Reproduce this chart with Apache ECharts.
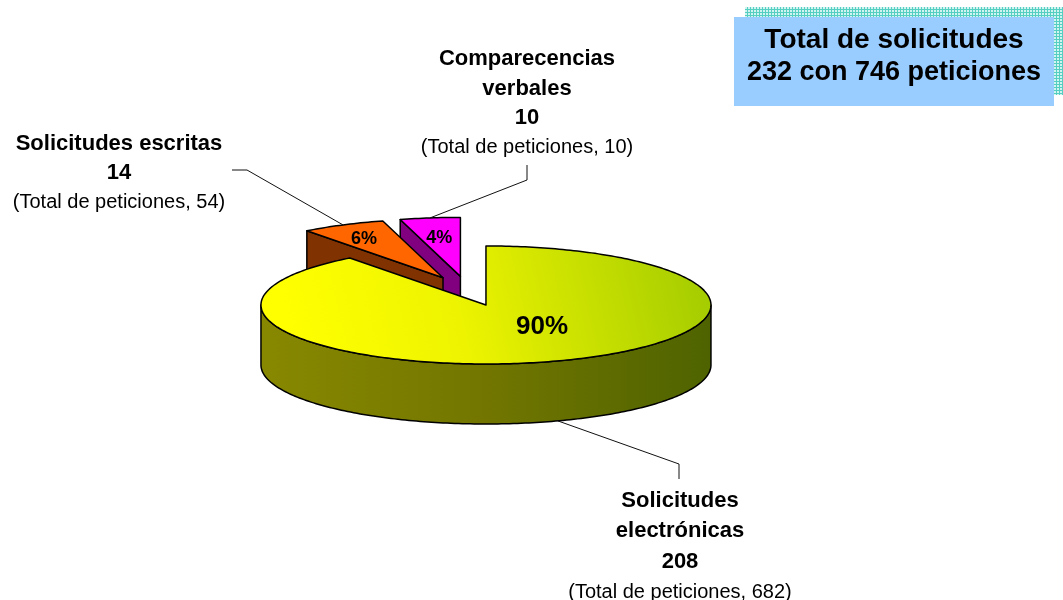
<!DOCTYPE html>
<html><head><meta charset="utf-8">
<script src="https://cdn.jsdelivr.net/npm/echarts@6/dist/echarts.min.js"></script>
<style>html,body{margin:0;padding:0;background:#fff}#c{width:1063px;height:600px}</style>
</head><body><div id="c"></div>
<script>
// ---- data ----
const categories = ['Solicitudes\nelectrónicas', 'Solicitudes escritas', 'Comparecencias\nverbales'];
const solicitudes = [208, 14, 10];
const peticiones = [682, 54, 10];
const peticionesText = 'Total de peticiones';
const boxTitle = 'Total de solicitudes';

const total = solicitudes.reduce((a, b) => a + b, 0);
const totalPet = peticiones.reduce((a, b) => a + b, 0);

// ---- layout / style ----
const FONT = '"Liberation Sans", Arial, sans-serif';
const PIE = { cx: 468, cy: 291, rx: 225, ry: 59, h: 60, explode: 0.25 };
const G = echarts.graphic;
const sliceStyle = [
  {
    top: new G.LinearGradient(290, 340, 700, 245, [
      { offset: 0, color: '#ffff00' }, { offset: 0.4, color: '#eef400' }, { offset: 1, color: '#a4cc00' }], true),
    side: new G.LinearGradient(261, 0, 711, 0, [
      { offset: 0, color: '#888800' }, { offset: 0.5, color: '#727600' }, { offset: 1, color: '#4e6300' }], true),
    pct: [0.78, 0.38], pctSize: 26
  },
  { top: '#ff6600', side: '#803300', pct: [0.79, 0.76], pctSize: 18 },
  { top: '#ff00ff', side: '#800080', pct: [0.70, 0.68], pctSize: 18 }
];
const labelLayout = [
  { x: 680, ys: [501, 531, 562, 592], elbow: [[679, 464], [679, 479]] },
  { x: 119, ys: [144, 173, 202], elbow: [[247, 170], [232, 170]] },
  { x: 527, ys: [59, 89, 118, 147], elbow: [[527, 180], [527, 165]] }
];

// angles
const starts = [];
{ let s = 0; solicitudes.forEach(v => { starts.push(s); s += v; }); }
function sliceGeom(i) {
  const a0 = starts[i] / total * Math.PI * 2;
  const a1 = (starts[i] + solicitudes[i]) / total * Math.PI * 2;
  const mid = (a0 + a1) / 2;
  const ax = PIE.cx + PIE.explode * PIE.rx * Math.sin(mid);
  const ay = PIE.cy - PIE.explode * PIE.ry * Math.cos(mid);
  return { a0, a1, mid, ax, ay };
}
const apexY = solicitudes.map((v, i) => sliceGeom(i).ay);
const rank = apexY.map(y => apexY.filter(o => o < y).length);

function renderItem(params, api) {
  const i = params.dataIndex;
  const { a0, a1, mid, ax, ay } = sliceGeom(i);
  const H = PIE.h;
  const P = (t, dy) => [ax + PIE.rx * Math.sin(t), ay - PIE.ry * Math.cos(t) + dy];
  const arc = (t0, t1, dy) => {
    const n = Math.max(2, Math.ceil((t1 - t0) / (Math.PI / 180)));
    const pts = [];
    for (let k = 0; k <= n; k++) pts.push(P(t0 + (t1 - t0) * k / n, dy));
    return pts;
  };
  const st = sliceStyle[i];
  const zb = rank[i] * 10;
  const children = [];
  const stroke = { stroke: '#000', lineWidth: 1.5, lineJoin: 'round' };
  // outer wall (front half)
  const s = Math.max(a0, Math.PI / 2), e = Math.min(a1, Math.PI * 1.5);
  if (s < e) {
    children.push({ type: 'polygon', z2: zb + 1,
      shape: { points: arc(s, e, 0).concat(arc(s, e, H).reverse()) },
      style: Object.assign({ fill: st.side }, stroke) });
  }
  if (Math.sin(a0) < -1e-6) {
    children.push({ type: 'polygon', z2: zb + 2,
      shape: { points: [[ax, ay], P(a0, 0), P(a0, H), [ax, ay + H]] },
      style: Object.assign({ fill: st.side }, stroke) });
  }
  if (Math.sin(a1) > 1e-6) {
    children.push({ type: 'polygon', z2: zb + 2,
      shape: { points: [[ax, ay], P(a1, 0), P(a1, H), [ax, ay + H]] },
      style: Object.assign({ fill: st.side }, stroke) });
  }
  children.push({ type: 'polygon', z2: zb + 3,
    shape: { points: [[ax, ay]].concat(arc(a0, a1, 0)) },
    style: Object.assign({ fill: st.top }, stroke) });
  // percentage label
  const pct = Math.round(api.value(0) / total * 100) + '%';
  children.push({ type: 'text', z2: 100,
    style: { text: pct, x: ax + st.pct[0] * PIE.rx * Math.sin(mid), y: ay - st.pct[1] * PIE.ry * Math.cos(mid) + 1,
      fill: '#000', font: 'bold ' + st.pctSize + 'px ' + FONT, align: 'center', verticalAlign: 'middle' } });
  // leader line
  const lay = labelLayout[i];
  const anchor = Math.cos(mid) < 0 ? P(mid, H) : P(mid, 0);
  children.push({ type: 'polyline', z2: 100,
    shape: { points: [anchor].concat(lay.elbow) },
    style: { stroke: '#111', lineWidth: 1, fill: null } });
  // outer label
  const lines = categories[i].split('\n').concat([String(api.value(0))]);
  lines.forEach((t, k) => {
    children.push({ type: 'text', z2: 100,
      style: { text: t, x: lay.x, y: lay.ys[k], fill: '#000', font: 'bold 22px ' + FONT, align: 'center', verticalAlign: 'middle' } });
  });
  children.push({ type: 'text', z2: 100,
    style: { text: '(' + peticionesText + ', ' + peticiones[i] + ')', x: lay.x, y: lay.ys[lines.length],
      fill: '#000', font: '20px ' + FONT, align: 'center', verticalAlign: 'middle' } });
  return { type: 'group', children };
}

// pattern for box shadow
const pc = document.createElement('canvas');
pc.width = 3; pc.height = 3;
const cx2 = pc.getContext('2d');
cx2.fillStyle = '#d2f4f0'; cx2.fillRect(0, 0, 3, 3);
cx2.fillStyle = '#55cfc1'; cx2.fillRect(0, 0, 3, 1); cx2.fillRect(0, 0, 1, 3);

const chart = echarts.init(document.getElementById('c'), null, { renderer: 'canvas' });
chart.setOption({
  backgroundColor: '#ffffff',
  animation: false,
  graphic: [
    { type: 'rect', shape: { x: 745, y: 7, width: 318, height: 88 }, style: { fill: { image: pc, repeat: 'repeat' } }, z: 1 },
    { type: 'rect', shape: { x: 734, y: 17, width: 320, height: 89 }, style: { fill: '#99ccff' }, z: 2 },
    { type: 'text', z: 3, style: { text: boxTitle, x: 894, y: 40, fill: '#000', font: 'bold 28px ' + FONT, align: 'center', verticalAlign: 'middle' } },
    { type: 'text', z: 3, style: { text: total + ' con ' + totalPet + ' peticiones', x: 894, y: 73, fill: '#000', font: 'bold 27px ' + FONT, align: 'center', verticalAlign: 'middle' } }
  ],
  series: [{
    type: 'custom',
    coordinateSystem: 'none',
    silent: true,
    renderItem: renderItem,
    data: solicitudes.map(v => [v])
  }]
});
</script></body></html>
